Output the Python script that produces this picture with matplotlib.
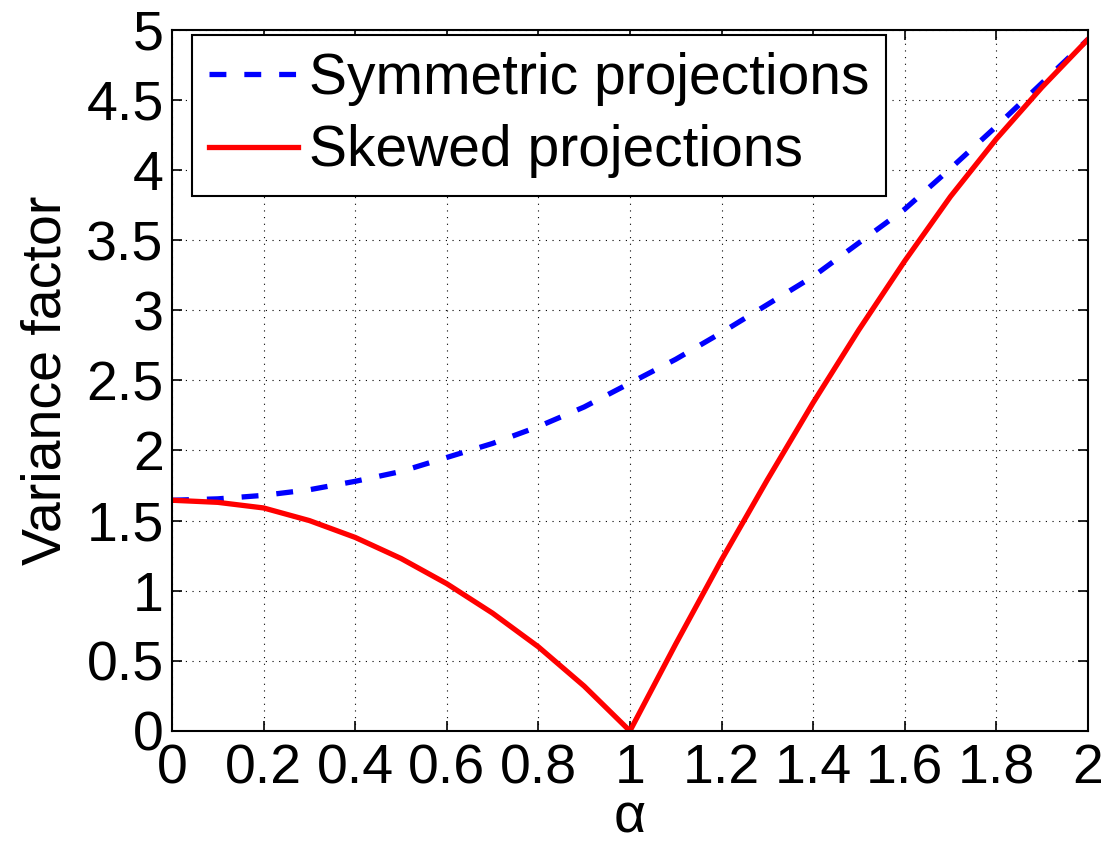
import matplotlib
matplotlib.use("Agg")
import matplotlib.pyplot as plt

plt.rcParams['font.family'] = ['Liberation Sans', 'DejaVu Sans']

# values
alpha = [0.0, 0.1, 0.2, 0.3, 0.4, 0.5, 0.6, 0.7, 0.8, 0.9, 1.0,
         1.1, 1.2, 1.3, 1.4, 1.5, 1.6, 1.7, 1.8, 1.9, 2.0]
symmetric = [1.645, 1.655, 1.68, 1.72, 1.78, 1.85, 1.95, 2.05, 2.17, 2.31, 2.48,
             2.65, 2.84, 3.04, 3.24, 3.48, 3.72, 4.01, 4.31, 4.62, 4.93]
skewed = [1.645, 1.63, 1.59, 1.50, 1.38, 1.23, 1.05, 0.84, 0.60, 0.32, 0.0,
          0.62, 1.22, 1.79, 2.34, 2.86, 3.35, 3.81, 4.22, 4.59, 4.93]

xticks = [0, 0.2, 0.4, 0.6, 0.8, 1, 1.2, 1.4, 1.6, 1.8, 2]
xticklabels = ["0", "0.2", "0.4", "0.6", "0.8", "1", "1.2", "1.4", "1.6", "1.8", "2"]
yticks = [0, 0.5, 1, 1.5, 2, 2.5, 3, 3.5, 4, 4.5, 5]
yticklabels = ["0", "0.5", "1", "1.5", "2", "2.5", "3", "3.5", "4", "4.5", "5"]

fig = plt.figure(figsize=(11.1, 8.48), dpi=100)
ax = fig.add_axes([0.155, 0.138, 0.825, 0.827])

ax.plot(alpha, symmetric, color='#0000ff', lw=3.8, linestyle=(0, (3.2, 3.4)),
        dash_capstyle='butt', label='Symmetric projections')
ax.plot(alpha, skewed, color='#ff0000', lw=3.8, label='Skewed projections')

ax.set_xlim(0, 2)
ax.set_ylim(0, 5)
ax.set_xticks(xticks)
ax.set_xticklabels(xticklabels)
ax.set_yticks(yticks)
ax.set_yticklabels(yticklabels)
ax.tick_params(direction='in', length=7, width=1.2, labelsize=40,
               top=True, right=True, pad=6)
ax.tick_params(axis='x', pad=9)
ax.grid(True, color='black', linestyle=(0, (1, 5)), linewidth=0.8)
for s in ax.spines.values():
    s.set_linewidth(1.5)

ax.set_xlabel('α', fontsize=40, labelpad=-2)
ax.set_ylabel('Variance factor', fontsize=40, labelpad=10)

leg = ax.legend(loc='upper left', bbox_to_anchor=(0.022, 0.993), fontsize=41,
                fancybox=False, frameon=True, handlelength=1.55,
                handletextpad=0.2, labelspacing=0.33, borderpad=0.3,
                borderaxespad=0)
leg.get_frame().set_edgecolor('black')
leg.get_frame().set_linewidth(1.5)
leg.get_frame().set_alpha(1)

fig.savefig('out.png', dpi=100)
